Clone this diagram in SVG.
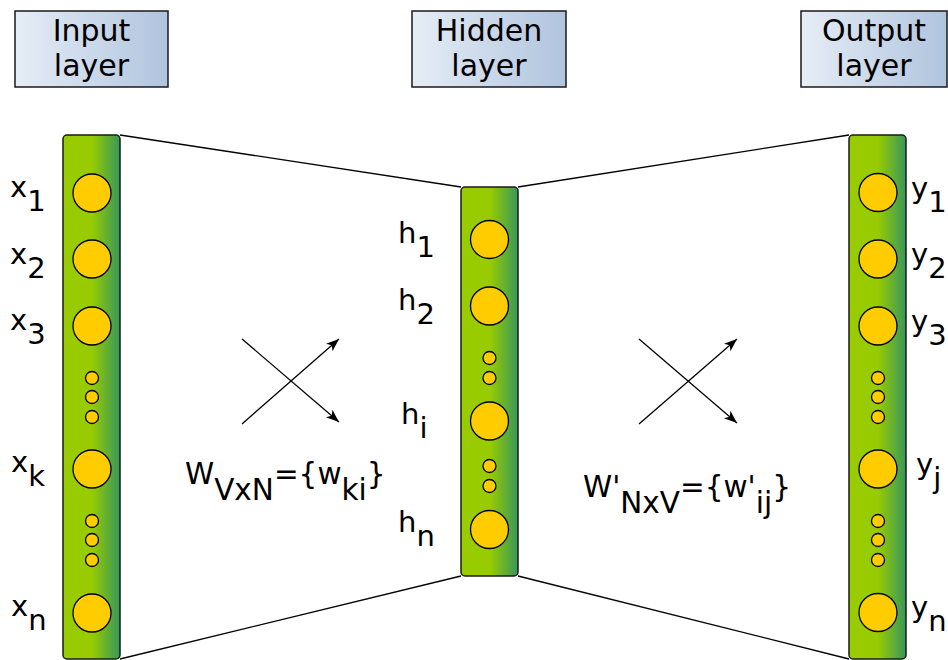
<svg xmlns="http://www.w3.org/2000/svg" width="948" height="660" viewBox="0 0 948 660">
<style>
text{font-family:"DejaVu Sans","Liberation Sans",sans-serif;font-size:29px;fill:#000}
.hdr{text-anchor:middle;font-size:30px}
.wl{font-size:29.5px}
.box{fill:url(#hg);stroke:#1a1a1a;stroke-width:1.5}
.bar{fill:url(#bg);stroke:#1a1a1a;stroke-width:1.5}
.n{fill:#ffcc00;stroke:#000;stroke-width:1.3}
.edge{stroke:#000;stroke-width:1.3;fill:none}
.arr{stroke:#000;stroke-width:1.3;fill:none;marker-end:url(#ah)}
</style>
<defs>
<linearGradient id="hg" x1="0" y1="0" x2="1" y2="0">
<stop offset="0" stop-color="#e6edf6"/>
<stop offset="1" stop-color="#b0c4de"/>
</linearGradient>
<linearGradient id="bg" x1="0" y1="0" x2="1" y2="0">
<stop offset="0" stop-color="#99cc00"/>
<stop offset="0.5" stop-color="#99cc00"/>
<stop offset="1" stop-color="#37985a"/>
</linearGradient>
<marker id="ah" markerUnits="userSpaceOnUse" markerWidth="16" markerHeight="12" refX="13" refY="5" orient="auto">
<path d="M0,0 L13,5 L0,10 L3.5,5 Z" fill="#000"/>
</marker>
</defs>

<g id="connectors">
<line class="edge" x1="120" y1="135" x2="461" y2="187"/>
<line class="edge" x1="120" y1="659" x2="461" y2="576"/>
<line class="edge" x1="518" y1="187" x2="849" y2="135"/>
<line class="edge" x1="518" y1="576" x2="849" y2="659"/>
<line class="arr" x1="242" y1="339" x2="339" y2="422"/>
<line class="arr" x1="242" y1="424" x2="339" y2="339"/>
<line class="arr" x1="639" y1="339" x2="737" y2="423"/>
<line class="arr" x1="639" y1="424" x2="737" y2="339"/>
</g>

<g id="input-header">
<rect class="box" x="15" y="11" width="153" height="76"/>
<text class="hdr" x="91.5" y="41">Input</text>
<text class="hdr" x="91.5" y="76">layer</text>
</g>
<g id="hidden-header">
<rect class="box" x="412" y="11" width="154" height="76"/>
<text class="hdr" x="489" y="41">Hidden</text>
<text class="hdr" x="489" y="76">layer</text>
</g>
<g id="output-header">
<rect class="box" x="801" y="11" width="146" height="76"/>
<text class="hdr" x="874" y="41">Output</text>
<text class="hdr" x="874" y="76">layer</text>
</g>

<g id="input-layer">
<rect class="bar" x="63" y="135" width="57" height="524" rx="4"/>
<circle class="n" cx="92" cy="193" r="19"/>
<circle class="n" cx="92" cy="259" r="19"/>
<circle class="n" cx="92" cy="326" r="19"/>
<circle class="n" cx="92" cy="378" r="6.5"/>
<circle class="n" cx="92" cy="397" r="6.5"/>
<circle class="n" cx="92" cy="417" r="6.5"/>
<circle class="n" cx="92" cy="469" r="19"/>
<circle class="n" cx="92" cy="521" r="6.5"/>
<circle class="n" cx="92" cy="540" r="6.5"/>
<circle class="n" cx="92" cy="560" r="6.5"/>
<circle class="n" cx="92" cy="613" r="19"/>
<text x="10" y="197">x<tspan dy="14">1</tspan></text>
<text x="10" y="264">x<tspan dy="14">2</tspan></text>
<text x="10" y="330">x<tspan dy="14">3</tspan></text>
<text x="11" y="472">x<tspan dy="14">k</tspan></text>
<text x="11" y="616">x<tspan dy="14">n</tspan></text>
</g>

<g id="hidden-layer">
<rect class="bar" x="461" y="187" width="57" height="389" rx="4"/>
<circle class="n" cx="489.5" cy="239.5" r="19"/>
<circle class="n" cx="489.5" cy="306" r="19"/>
<circle class="n" cx="489.5" cy="358" r="6.5"/>
<circle class="n" cx="489.5" cy="378" r="6.5"/>
<circle class="n" cx="489.5" cy="421" r="19"/>
<circle class="n" cx="489.5" cy="466" r="6.5"/>
<circle class="n" cx="489.5" cy="486" r="6.5"/>
<circle class="n" cx="489.5" cy="529.5" r="19"/>
<text x="398" y="243">h<tspan dy="14">1</tspan></text>
<text x="398" y="310">h<tspan dy="14">2</tspan></text>
<text x="401" y="424">h<tspan dy="14">i</tspan></text>
<text x="398" y="532">h<tspan dy="14">n</tspan></text>
</g>

<g id="output-layer">
<rect class="bar" x="849" y="135" width="57" height="524" rx="4"/>
<circle class="n" cx="878" cy="192.5" r="19"/>
<circle class="n" cx="878" cy="259" r="19"/>
<circle class="n" cx="878" cy="326" r="19"/>
<circle class="n" cx="878" cy="378" r="6.5"/>
<circle class="n" cx="878" cy="397" r="6.5"/>
<circle class="n" cx="878" cy="417" r="6.5"/>
<circle class="n" cx="878" cy="469" r="19"/>
<circle class="n" cx="878" cy="521" r="6.5"/>
<circle class="n" cx="878" cy="540" r="6.5"/>
<circle class="n" cx="878" cy="560" r="6.5"/>
<circle class="n" cx="878" cy="612.5" r="19"/>
<text x="911" y="198">y<tspan dy="14">1</tspan></text>
<text x="911" y="264">y<tspan dy="14">2</tspan></text>
<text x="911" y="331">y<tspan dy="14">3</tspan></text>
<text x="916" y="474">y<tspan dy="14">j</tspan></text>
<text x="911" y="617">y<tspan dy="14">n</tspan></text>
</g>

<g id="weights-in">
<text class="wl" x="185" y="484">W<tspan dy="16">VxN</tspan><tspan dy="-16">={w</tspan><tspan dy="16">ki</tspan><tspan dy="-16">}</tspan></text>
</g>
<g id="weights-out">
<text class="wl" x="583" y="497">W'<tspan dy="16">NxV</tspan><tspan dy="-16">={w'</tspan><tspan dy="16">ij</tspan><tspan dy="-16">}</tspan></text>
</g>
</svg>
